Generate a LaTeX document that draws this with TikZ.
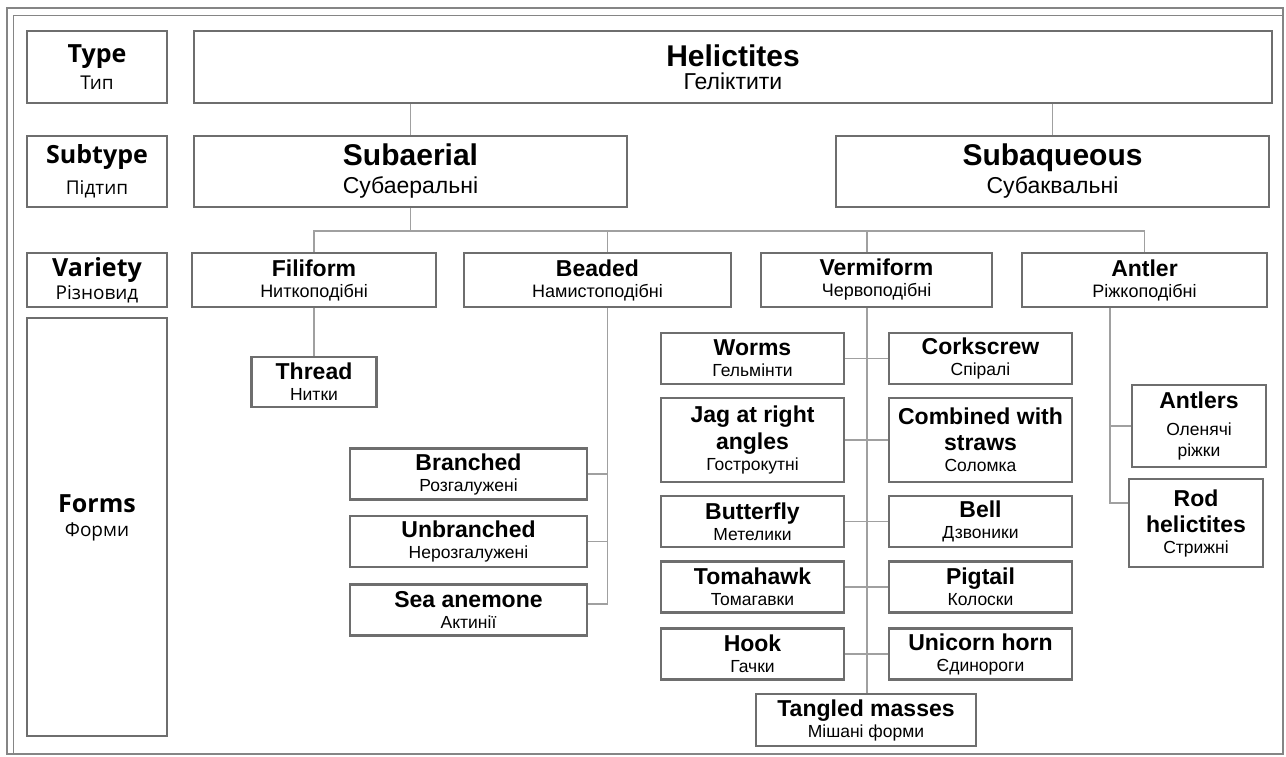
\documentclass[tikz,border=0pt]{standalone}
\usepackage{fontspec}
\setmainfont{Liberation Sans}
\newfontfamily\uifont{Open Sans}
\usetikzlibrary{positioning}
\definecolor{boxgray}{HTML}{6E6E6E}
\definecolor{linkgray}{HTML}{A0A0A0}
\definecolor{framegray}{HTML}{858585}
\newcommand*{\ttl}[1]{{\fontsize{30}{30}\selectfont\bfseries #1}}
\newcommand*{\nm}[1]{{\fontsize{23}{23}\selectfont\bfseries #1}}
\newcommand*{\lvl}[1]{{\fontsize{25}{25}\selectfont\bfseries #1}}

\begin{document}
\begin{tikzpicture} [x=1pt, y=-1pt,
    main node/.style={rectangle, draw=boxgray, line width=2.2pt, fill=white,
        align=center, inner sep=2pt},
    head node/.style={main node, font=\fontsize{23}{28}\selectfont,
        minimum height=71pt, minimum width=433pt},
    var node/.style={main node, font=\fontsize{18}{21}\selectfont,
        minimum height=54pt},
    form node/.style={main node, font=\fontsize{17.5}{21}\selectfont,
        minimum height=51pt, minimum width=183pt},
    side node/.style={main node, font=\fontsize{17.5}{21}\selectfont,
        minimum width=237pt, minimum height=51pt},
    level node/.style={main node, font=\uifont\fontsize{19}{27}\selectfont,
        minimum width=140pt},
    link/.style={draw=linkgray, line width=1.4pt}
  ]

  \useasboundingbox (0,0) rectangle (1286,756);
  \draw [framegray, line width=2pt] (7,8) rectangle (1283,754);
  \draw [framegray, line width=1pt] (13,754) -- (13,15) -- (1283,15);

  % left column
  \node [level node,
    minimum height = 72pt
  ] (type) at (97,67) {\lvl{Type}\\Тип};
  \node [level node,
    minimum height = 71pt
  ] (subtype) at (97,171.5) {\lvl{Subtype}\\[4pt]Підтип};
  \node [level node,
    font=\uifont\fontsize{19}{23}\selectfont,
    minimum height = 54pt
  ] (variety) at (97,280) {\lvl{Variety}\\Різновид};
  \node [level node,
    font=\uifont\fontsize{19}{24}\selectfont,
    text depth = 22pt,
    minimum height = 418pt
  ] (forms) at (97,527) {\lvl{Forms}\\Форми};

  % type and subtypes
  \node [main node,
    font=\fontsize{23}{23}\selectfont,
    minimum width = 1078pt,
    minimum height = 72pt
  ] (hel) at (733,67) {\ttl{Helictites}\\Геліктити};
  \node [head node] (sa) at (410.5,171.5) {\ttl{Subaerial}\\Субаеральні};
  \node [head node] (sq) at (1052.5,171.5) {\ttl{Subaqueous}\\Субаквальні};

  \draw [link] (sa.north) -- (sa.north |- hel.south);
  \draw [link] (sq.north) -- (sq.north |- hel.south);

  % varieties
  \node [var node, minimum width = 244pt] (fil) at (314,280) {\nm{Filiform}\\Ниткоподібні};
  \node [var node, minimum width = 267pt] (bd) at (597.5,280) {\nm{Beaded}\\Намистоподібні};
  \node [var node, minimum width = 231pt] (vm) at (876.5,280) {\nm{Vermiform}\\Червоподібні};
  \node [var node, minimum width = 245pt] (ant) at (1144.5,280) {\nm{Antler}\\Ріжкоподібні};

  \coordinate (bus) at ([yshift=-23pt]sa.south);
  \coordinate (bdx) at ([xshift=10pt]bd.south);
  \coordinate (vmx) at ([xshift=-9.5pt]vm.south);
  \coordinate (antx) at ([xshift=-34.5pt]ant.south);

  \draw [link] (sa.south) -- (bus);
  \draw [link] (fil.north) |- (bus);
  \draw [link] (ant.north) |- (bus);
  \draw [link] ([xshift=10pt]bd.north) -- ([xshift=10pt]bd.north |- bus);
  \draw [link] ([xshift=-9.5pt]vm.north) -- ([xshift=-9.5pt]vm.north |- bus);

  % filiform
  \node [form node,
    minimum width = 125pt,
    minimum height = 50pt,
    below = 47.8pt of fil
  ] (thr) {\nm{Thread}\\Нитки};
  \draw [link] (fil.south) -- (thr.north);

  % beaded
  \node [side node] (br) at (468.5,474) {\nm{Branched}\\Розгалужені};
  \node [side node, below = 14.3pt of br] (unbr) {\nm{Unbranched}\\Нерозгалужені};
  \node [side node, below = 15.3pt of unbr] (sea) {\nm{Sea anemone}\\Актинії};

  \draw [link] (bdx) |- ([yshift=6pt]sea.east);
  \draw [link] (br.east) -- (br.east -| bdx);
  \draw [link] (unbr.east) -- (unbr.east -| bdx);

  % vermiform
  \node [form node] (worms) at (752.5,358.5) {\nm{Worms}\\Гельмінти};
  \node [form node, right = 42.8pt of worms] (cork) {\nm{Corkscrew}\\Спіралі};
  \node [form node,
    minimum height = 84pt,
    below = 11.8pt of worms
  ] (jag) {\nm{Jag at right}\\[5pt]\nm{angles}\\Гострокутні};
  \node [form node, minimum height = 84pt, right = 42.8pt of jag] (comb) {\nm{Combined with}\\[5pt]\nm{straws}\\Соломка};
  \node [form node, below = 11.8pt of jag] (bfly) {\nm{Butterfly}\\Метелики};
  \node [form node, right = 42.8pt of bfly] (bell) {\nm{Bell}\\Дзвоники};
  \node [form node, below = 12.3pt of bfly] (toma) {\nm{Tomahawk}\\Томагавки};
  \node [form node, right = 42.8pt of toma] (pig) {\nm{Pigtail}\\Колоски};
  \node [form node, below = 13.8pt of toma] (hook) {\nm{Hook}\\Гачки};
  \node [form node, right = 42.8pt of hook] (uni) {\nm{Unicorn horn}\\Єдинороги};
  \node [form node,
    minimum width = 220pt,
    minimum height = 52pt
  ] (tang) at (866,720) {\nm{Tangled masses}\\Мішані форми};

  \draw [link] (vmx) -- (vmx |- tang.north);
  \draw [link] (worms.east) -- (cork.west);
  \draw [link] (jag.east) -- (comb.west);
  \draw [link] (bfly.east) -- (bell.west);
  \draw [link] (toma.east) -- (pig.west);
  \draw [link] (hook.east) -- (uni.west);

  % antler
  \node [form node,
    minimum width = 134pt,
    minimum height = 82pt
  ] (antlers) at (1199,426) {\nm{Antlers}\\[6pt]Оленячі\\ріжки};
  \node [form node,
    minimum width = 134pt,
    minimum height = 88pt
  ] (rod) at (1196,523) {\nm{Rod}\\[5pt]\nm{helictites}\\Стрижні};

  \draw [link] (antx) |- ([yshift=20pt]rod.west);
  \draw [link] (antlers.west) -- (antlers.west -| antx);

\end{tikzpicture}
\end{document}
